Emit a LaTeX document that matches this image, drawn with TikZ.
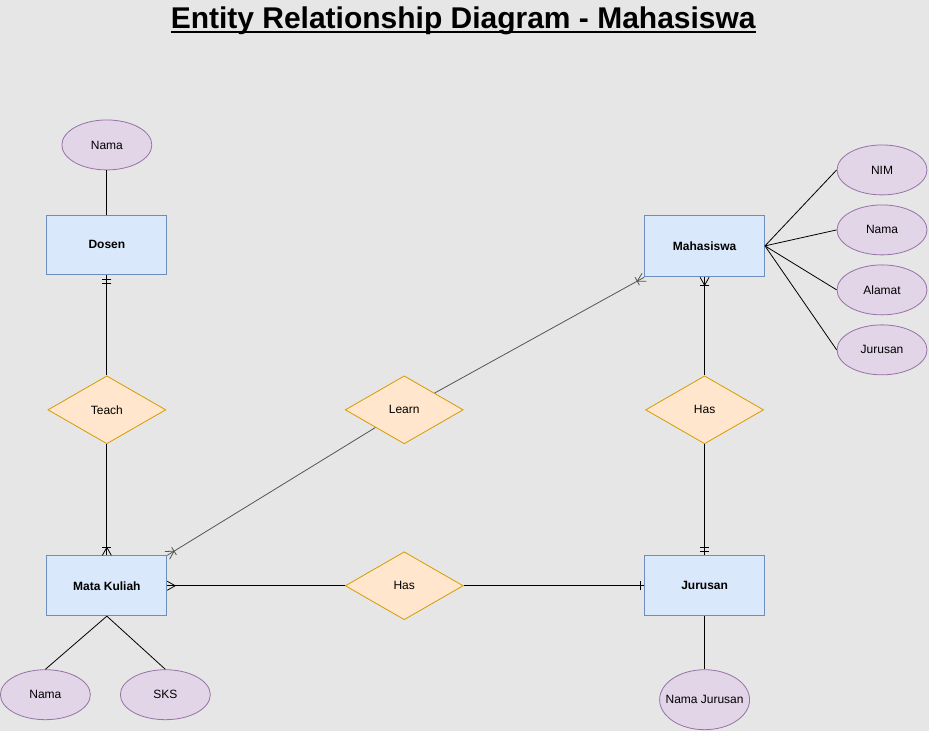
\documentclass[tikz,border=0pt]{standalone}
\usepackage{fontspec}
\setmainfont{Liberation Sans}
\newcommand{\thickul}[1]{\setbox0\hbox{#1}\copy0\llap{\rule[-4.4pt]{\wd0}{2.4pt}}}
\usetikzlibrary{arrows.meta,shapes.geometric,decorations.markings}
\definecolor{canvas}{HTML}{E6E6E6}
\definecolor{entfill}{HTML}{DAE8FC}
\definecolor{entline}{HTML}{6C8EBF}
\definecolor{relfill}{HTML}{FFE6CC}
\definecolor{relline}{HTML}{D79B00}
\definecolor{attrfill}{HTML}{E1D5E7}
\definecolor{attrline}{HTML}{9673A6}
\definecolor{linkgray}{HTML}{555555}
\tikzset{
  entity/.style={draw=entline, fill=entfill, minimum width=120pt, minimum height=60pt,
    inner sep=0pt, font=\fontsize{12}{14}\selectfont\bfseries},
  attrib/.style={ellipse, draw=attrline, fill=attrfill, minimum width=90pt,
    minimum height=50pt, inner sep=0pt, font=\fontsize{12}{14}\selectfont},
  relation/.style={diamond, draw=relline, fill=relfill, minimum width=118pt,
    minimum height=68pt, inner sep=0pt, font=\fontsize{12}{14}\selectfont},
  link/.style={draw=black},
  softlink/.style={draw=linkgray},
  % cardinality marks at the entity end
  oneone/.style={postaction={decorate, decoration={markings,
    mark=at position -8pt with {\draw (0,-4.5pt) -- (0,4.5pt);},
    mark=at position -4pt with {\draw (0,-4.5pt) -- (0,4.5pt);}}}},
  justone/.style={postaction={decorate, decoration={markings,
    mark=at position -4pt with {\draw (0,-4.5pt) -- (0,4.5pt);}}}},
  manymark/.style={postaction={decorate, decoration={markings,
    mark=at position 1 with {\draw (-8pt,0) -- (0,4.5pt) (-8pt,0) -- (0,-4.5pt);}}}},
  onemany/.style={postaction={decorate, decoration={markings,
    mark=at position -8pt with {\draw (0,-4.5pt) -- (0,4.5pt);},
    mark=at position 1 with {\draw (-8pt,0) -- (0,4.5pt) (-8pt,0) -- (0,-4.5pt);}}}}
}
\begin{document}
\begin{tikzpicture}[x=1pt, y=-1pt, line width=0.8pt]
  \fill[canvas] (0,0) rectangle (929,731);
  \node[font=\fontsize{30}{34}\selectfont\bfseries] (title) at (463,21)
    {\thickul{Entity Relationship Diagram - Mahasiswa}};

  % entities
  \node[entity] (dosen) at (106.5,245) {Dosen};
  \node[entity, minimum height=62pt] (mhs) at (704.5,246) {Mahasiswa};
  \node[entity] (mk) at (106.5,586) {Mata Kuliah};
  \node[entity] (jur) at (704.5,586) {Jurusan};

  % relationships
  \node[relation] (teach) at (106.5,410) {Teach};
  \node[relation] (learn) at (404,410) {Learn};
  \node[relation] (hasmj) at (704.5,410) {Has};
  \node[relation] (hasmk) at (404,586) {Has};

  % attributes
  \node[attrib] (namados) at (106.5,145) {Nama};
  \node[attrib] (nim) at (882,170) {NIM};
  \node[attrib] (namamhs) at (882,230) {Nama};
  \node[attrib] (alamat) at (882,290) {Alamat};
  \node[attrib] (jurmhs) at (882,350) {Jurusan};
  \node[attrib] (namamk) at (45,695) {Nama};
  \node[attrib] (sks) at (165,695) {SKS};
  \node[attrib, minimum height=60pt] (namajur) at (704.5,700)
    {\makebox[0pt]{Nama Jurusan}};

  % attribute links
  \draw[link] (namados.south) -- (dosen.north);
  \foreach \a in {nim,namamhs,alamat,jurmhs}
    \draw[link] (mhs.east) -- (\a.west);
  \draw[link] (mk.south) -- (namamk.north);
  \draw[link] (mk.south) -- (sks.north);
  \draw[link] (jur.south) -- (namajur.north);

  % relationship links
  \draw[link, oneone] (teach.north) -- (dosen.south);
  \draw[link, onemany] (teach.south) -- (mk.north);
  \draw[softlink, onemany] (learn) -- (mhs.south west);
  \draw[softlink, onemany] (learn) -- (mk.north east);
  \draw[link, onemany] (hasmj.north) -- (mhs.south);
  \draw[link, oneone] (hasmj.south) -- (jur.north);
  \draw[link, manymark] (hasmk.west) -- (mk.east);
  \draw[link, justone] (hasmk.east) -- (jur.west);
\end{tikzpicture}
\end{document}
